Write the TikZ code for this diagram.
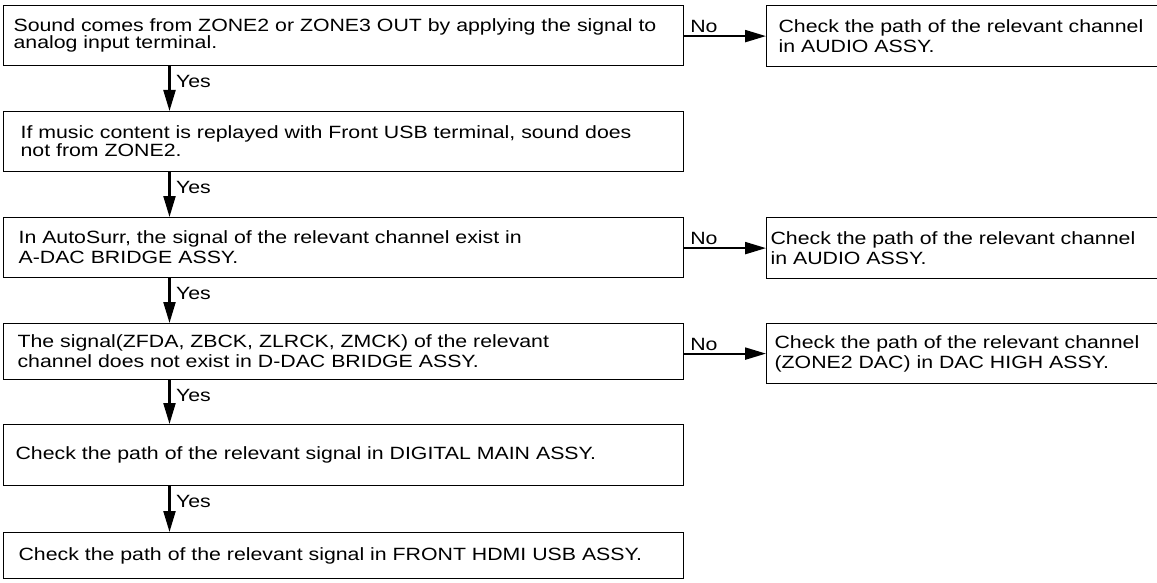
\documentclass[tikz,border=0pt]{standalone}
\usepackage{fontspec}
\setmainfont[FakeStretch=1.2]{Liberation Sans}
\usetikzlibrary{arrows.meta}
\newcommand{\fs}[1]{\fontsize{17.75}{#1}\selectfont}
\tikzset{
  every picture/.style={line width=1.2pt},
  blk/.style={draw,rectangle,anchor=north west,align=left,inner ysep=0pt,font=\fs{20}},
  lbl/.style={font=\fs{20},inner sep=0pt},
  flow/.style={-{Triangle[length=21pt,width=12pt]},line width=2.2pt},
  yes/.style={lbl,pos=0,anchor=north west,xshift=5.5pt,yshift=-8pt},
  no/.style={lbl,pos=0,anchor=south west,xshift=5pt,yshift=2pt},
}

\begin{document}
\begin{tikzpicture}[x=1pt,y=-1pt]
\useasboundingbox (0,0) rectangle (1157,583);
% --- main column ---
\node[blk,inner xsep=10pt,text width=660pt,minimum height=60pt,font=\fs{16}] (Q1) at (3,5)
  {Sound comes from ZONE2 or ZONE3 OUT by applying the signal to\\analog input terminal.};
\node[blk,inner xsep=17pt,text width=646pt,minimum height=60pt,font=\fs{18}] (Q2) at (3,111)
  {If music content is replayed with Front USB terminal, sound does\\not from ZONE2.};
\node[blk,inner xsep=15pt,text width=650pt,minimum height=60pt] (Q3) at (3,217)
  {In AutoSurr, the signal of the relevant channel exist in\\A-DAC BRIDGE ASSY.};
\node[blk,inner xsep=14pt,text width=652pt,minimum height=56pt] (Q4) at (3,323)
  {The signal(ZFDA, ZBCK, ZLRCK, ZMCK) of the relevant\\channel does not exist in D-DAC BRIDGE ASSY.};
\node[blk,inner xsep=12pt,text width=656pt,minimum height=61pt] (C5) at (3,424)
  {Check the path of the relevant signal in DIGITAL MAIN ASSY.};
\node[blk,inner xsep=15pt,text width=650pt,minimum height=46pt] (C6) at (3,532)
  {Check the path of the relevant signal in FRONT HDMI USB ASSY.};
% --- side checks ---
\node[blk,inner xsep=12pt,text width=368pt,minimum height=61pt] (R1) at (766,5)
  {Check the path of the relevant channel\\in AUDIO ASSY.};
\node[blk,inner xsep=4pt,text width=384pt,minimum height=61pt] (R2) at (766,217)
  {Check the path of the relevant channel\\in AUDIO ASSY.};
\node[blk,inner xsep=8pt,text width=376pt,minimum height=60pt] (R3) at (766,323)
  {Check the path of the relevant channel\\(ZONE2 DAC) in DAC HIGH ASSY.};
% --- yes arrows ---
\foreach \a/\b in {Q1/Q2,Q2/Q3,Q3/Q4,Q4/C5,C5/C6}{
  \draw[flow] ([xshift=166.5pt]\a.south west) -- node[yes] {Yes} ([xshift=166.5pt]\b.north west);
}
% --- no arrows ---
\foreach \a/\b in {Q1/R1,Q3/R2,Q4/R3}{
  \draw[flow] (\a.east |- \b.west) -- node[no] {No} (\b.west);
}
\end{tikzpicture}
\end{document}
